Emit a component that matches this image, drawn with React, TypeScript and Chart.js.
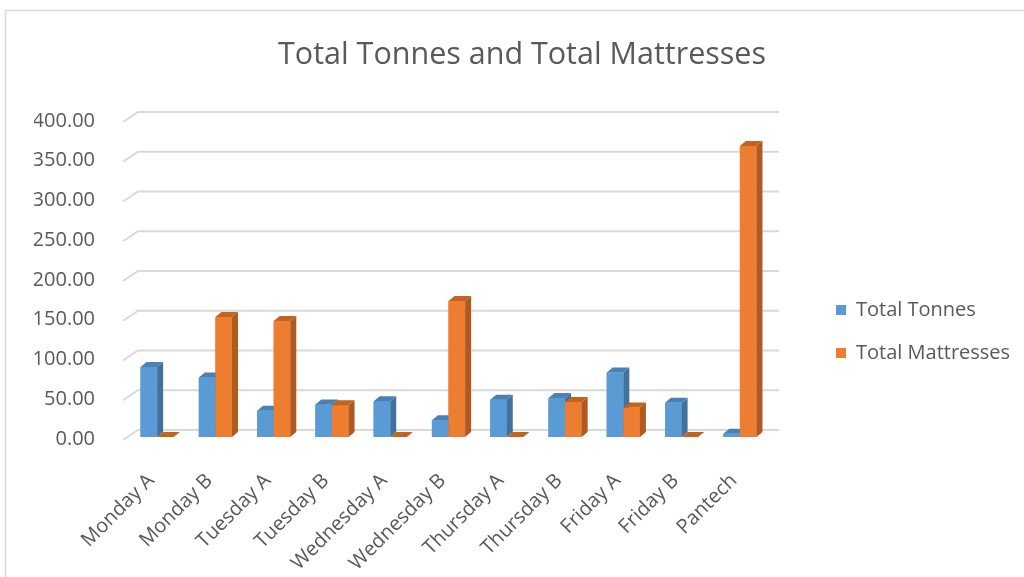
import React, { useEffect, useRef } from "react";
import { Chart, registerables } from "chart.js";

Chart.register(...registerables);

const categories = [
  "Monday A",
  "Monday B",
  "Tuesday A",
  "Tuesday B",
  "Wednesday A",
  "Wednesday B",
  "Thursday A",
  "Thursday B",
  "Friday A",
  "Friday B",
  "Pantech",
];
const totalTonnes = [88, 75, 33, 41, 45, 21, 47, 49, 81, 43, 4];
const totalMattresses = [0, 151, 146, 40, 0, 171, 0, 44, 37, 0, 366];
const seriesNames = ["Total Tonnes", "Total Mattresses"];
const yMin = 0;
const yMax = 400;
const yStep = 50;

const FRONT = ["#5b9bd5", "#ed7d31"];
const SIDE = ["#41719c", "#ae5a21"];
const TOP = ["#4a80b5", "#c2631f"];
const TEXT = "#595959";
const GRID = "#d9d9d9";
const FONT = "'Open Sans', sans-serif";

const frame = {
  id: "frame",
  beforeDraw(chart: any) {
    const ctx = chart.ctx;
    ctx.save();
    ctx.fillStyle = "#ffffff";
    ctx.fillRect(0, 0, chart.width, chart.height);
    ctx.strokeStyle = GRID;
    ctx.lineWidth = 1.5;
    ctx.beginPath();
    ctx.moveTo(5.5, chart.height);
    ctx.lineTo(5.5, 10.5);
    ctx.lineTo(chart.width, 10.5);
    ctx.stroke();
    ctx.restore();
  },
};

const grid3d = {
  id: "grid3d",
  beforeDatasetsDraw(chart: any) {
    const ctx = chart.ctx;
    const ys = chart.scales.y;
    const { left, right } = chart.chartArea;
    ctx.save();
    ctx.strokeStyle = GRID;
    ctx.lineWidth = 2;
    ys.ticks.forEach((t: any) => {
      const y = ys.getPixelForValue(t.value);
      ctx.beginPath();
      ctx.moveTo(left - 5, y + 3);
      ctx.lineTo(left + 10, y - 7);
      ctx.lineTo(right + 10, y - 7);
      ctx.stroke();
    });
    ctx.restore();
  },
};

const bars3d = {
  id: "bars3d",
  afterDatasetsDraw(chart: any) {
    const ctx = chart.ctx;
    const dx = 6;
    const dy = 5;
    const n = chart.data.labels.length;
    ctx.save();
    for (let i = 0; i < n; i++) {
      chart.data.datasets.forEach((ds: any, d: number) => {
        const meta = chart.getDatasetMeta(d);
        const el = meta.data[i];
        if (!el) return;
        const { x, y, base, width } = el.getProps(["x", "y", "base", "width"], true);
        const l = x - width / 2;
        const r = x + width / 2;
        ctx.fillStyle = FRONT[d];
        ctx.fillRect(l, y, width, base - y);
        ctx.fillStyle = SIDE[d];
        ctx.beginPath();
        ctx.moveTo(r, y);
        ctx.lineTo(r + dx, y - dy);
        ctx.lineTo(r + dx, base - dy);
        ctx.lineTo(r, base);
        ctx.closePath();
        ctx.fill();
        ctx.fillStyle = TOP[d];
        ctx.beginPath();
        ctx.moveTo(l, y);
        ctx.lineTo(l + dx, y - dy);
        ctx.lineTo(r + dx, y - dy);
        ctx.lineTo(r, y);
        ctx.closePath();
        ctx.fill();
      });
    }
    ctx.restore();
  },
};

export default function App() {
  const ref = useRef<HTMLCanvasElement | null>(null);

  useEffect(() => {
    if (!ref.current) return;
    const chart = new Chart(ref.current, {
      type: "bar",
      data: {
        labels: categories,
        datasets: [
          { label: seriesNames[0], data: totalTonnes, backgroundColor: FRONT[0], borderWidth: 0 },
          { label: seriesNames[1], data: totalMattresses, backgroundColor: FRONT[1], borderWidth: 0 },
        ],
      },
      options: {
        responsive: false,
        animation: false,
        events: [],
        layout: { padding: { left: 34, right: 14, top: 0, bottom: 0 } },
        datasets: {
          bar: { categoryPercentage: 0.57, barPercentage: 1 },
        } as any,
        scales: {
          x: {
            grid: { display: false },
            border: { display: false },
            ticks: {
              autoSkip: false,
              minRotation: 45,
              maxRotation: 45,
              padding: 24,
              labelOffset: -6,
              color: TEXT,
              font: { family: FONT, size: 20 },
            },
            afterFit: (s: any) => {
              s.height = 140;
            },
          },
          y: {
            min: yMin,
            max: yMax,
            grid: { display: false },
            border: { display: false },
            ticks: {
              stepSize: yStep,
              padding: 25,
              labelOffset: 2,
              color: TEXT,
              font: { family: FONT, size: 20 },
              callback: (v: any) => Number(v).toFixed(2),
            },
            afterFit: (s: any) => {
              s.width = 94;
            },
          },
          gap: {
            type: "linear",
            position: "right",
            display: true,
            grid: { display: false },
            border: { display: false },
            ticks: { display: false },
            afterFit: (s: any) => {
              s.width = 44;
            },
          },
        } as any,
        plugins: {
          title: {
            display: true,
            text: "Total Tonnes and Total Mattresses",
            color: TEXT,
            font: { family: FONT, size: 30.5, weight: "normal", lineHeight: 1.2 },
            padding: { top: 37, bottom: 45.4 },
          },
          legend: {
            position: "right",
            align: "center",
            maxWidth: 197,
            title: {
              display: true,
              text: " ",
              font: { size: 10, lineHeight: 1 },
              padding: { top: 76, bottom: 0 },
            },
            labels: {
              boxWidth: 10,
              boxHeight: 10,
              padding: 23,
              color: TEXT,
              font: { family: FONT, size: 20 },
            },
          },
          tooltip: { enabled: false },
        },
      },
      plugins: [frame, grid3d, bars3d],
    });
    return () => chart.destroy();
  }, []);

  return (
    <div style={{ position: "fixed", left: 0, top: 0, width: 1024, height: 577, background: "#fff" }}>
      <canvas ref={ref} width={1024} height={577} style={{ display: "block" }} />
    </div>
  );
}
